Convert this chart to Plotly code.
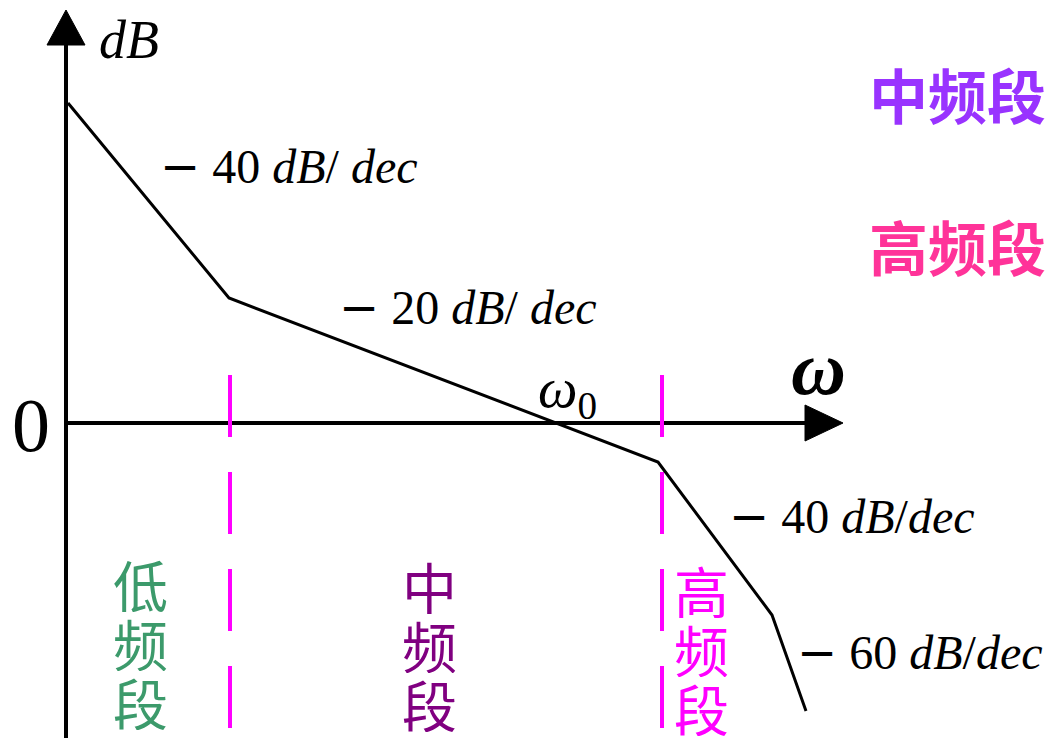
import plotly.graph_objects as go

# Asymptotic Bode magnitude plot (plot units: x = frequency position, y = dB position)
W, H = 1048, 738
Y0 = 423  # vertical position of the 0 dB axis, measured from the top

# Break points of the asymptotic magnitude curve
curve_x = [68, 229, 658, 772, 806]
curve_db = [320, 125, -39, -192, -288]

# Slope labels
MINUS = '<span style="font-family:DejaVu Sans">−</span> '
slope_text = [MINUS + "40 <i>dB</i>/ <i>dec</i>", MINUS + "20 <i>dB</i>/ <i>dec</i>",
              MINUS + "40 <i>dB</i>/<i>dec</i>", MINUS + "60 <i>dB</i>/<i>dec</i>"]
slope_x = [158, 337, 727, 795]
slope_y = [257, 116, -93, -229]

# Band boundaries (corner frequencies) and band names
boundary_x = [230, 662]
band_names = ["低频段", "中频段", "高频段"]
band_colors = ["#3C9A6B", "#800080", "#FF00FF"]
band_x = [140, 429, 701]
band_top = [-160, -162, -166]

# Labels at the top right
side_names = ["中频段", "高频段"]
side_colors = ["#9933FF", "#FF3399"]
side_y = [330, 178]

fig = go.Figure()

# Axes
ax_col = "black"
fig.add_trace(go.Scatter(x=[66, 66], y=[Y0 - H, Y0 - 42], mode="lines",
                         line=dict(color=ax_col, width=4), hoverinfo="skip"))
fig.add_trace(go.Scatter(x=[66, 808], y=[0, 0], mode="lines",
                         line=dict(color=ax_col, width=4), hoverinfo="skip"))
fig.add_trace(go.Scatter(x=[47, 66, 85, 47], y=[Y0 - 45, Y0 - 10, Y0 - 45, Y0 - 45],
                         mode="lines", fill="toself", fillcolor=ax_col,
                         line=dict(color=ax_col, width=1), hoverinfo="skip"))
fig.add_trace(go.Scatter(x=[805, 843, 805, 805], y=[18, 0, -18, 18],
                         mode="lines", fill="toself", fillcolor=ax_col,
                         line=dict(color=ax_col, width=1), hoverinfo="skip"))

# Corner-frequency dashed separators
for bx in boundary_x:
    fig.add_trace(go.Scatter(x=[bx, bx], y=[Y0 - 375, Y0 - 728], mode="lines",
                             line=dict(color="#FF00FF", width=4, dash="62px,35px"),
                             hoverinfo="skip"))

# Magnitude curve
fig.add_trace(go.Scatter(x=curve_x, y=curve_db, mode="lines",
                         line=dict(color="black", width=3), hoverinfo="skip"))

serif = "Liberation Serif"
ann = []
ann.append(dict(x=97, y=Y0 - 40, text="<i>dB</i>", xanchor="left", yanchor="middle",
                font=dict(family=serif, size=54, color="black")))
ann.append(dict(x=31, y=Y0 - 425, text="0", xanchor="center", yanchor="middle",
                font=dict(family=serif, size=76, color="black")))
ann.append(dict(x=818, y=Y0 - 368, text="<b><i>ω</i></b>", xanchor="center", yanchor="middle",
                font=dict(family=serif, size=76, color="black")))
ann.append(dict(x=536, y=Y0 - 392, text="<i>ω</i><sub>0</sub>", xanchor="left", yanchor="middle",
                font=dict(family=serif, size=56, color="black")))
for t, sx, sy in zip(slope_text, slope_x, slope_y):
    ann.append(dict(x=sx, y=sy, text=t, xanchor="left", yanchor="middle",
                    font=dict(family=serif, size=48, color="black")))

cjk = "Noto Sans CJK SC"
for name, col, bx, top in zip(band_names, band_colors, band_x, band_top):
    for i, ch in enumerate(name):
        ann.append(dict(x=bx, y=top - 59 * i, text=ch, xanchor="center", yanchor="middle",
                        height=58, font=dict(family=cjk, size=55, color=col)))
for name, col, sy in zip(side_names, side_colors, side_y):
    ann.append(dict(x=1048, y=sy, text="<b>" + name + "</b>", xanchor="right", yanchor="middle",
                    font=dict(family=cjk, size=59, color=col)))

for a in ann:
    a.update(showarrow=False, xref="x", yref="y")

fig.update_layout(
    width=W, height=H, margin=dict(l=0, r=0, t=0, b=0),
    paper_bgcolor="white", plot_bgcolor="white", showlegend=False,
    xaxis=dict(range=[0, W], visible=False, fixedrange=True),
    yaxis=dict(range=[Y0 - H, Y0], visible=False, fixedrange=True),
    annotations=ann,
)

fig.write_html("out.html")
